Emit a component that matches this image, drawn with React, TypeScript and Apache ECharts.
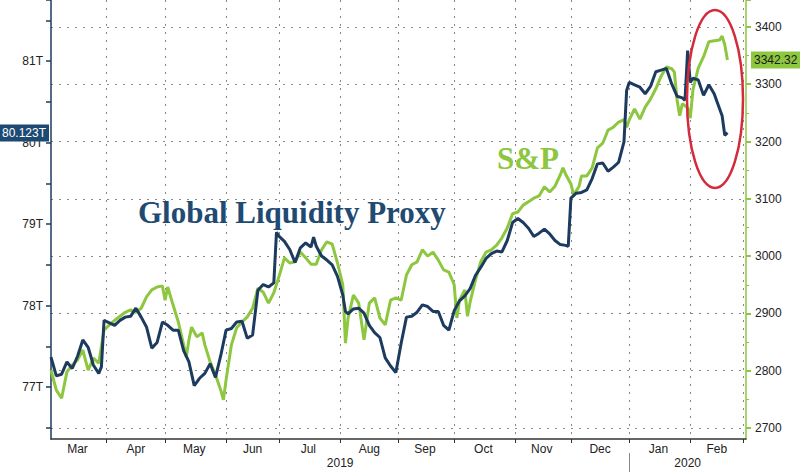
import React, { useEffect, useRef } from "react";
import * as echarts from "echarts";

// ---- data ----
const liquidityDates = [
  "2019-03-01","2019-03-05","2019-03-07","2019-03-11","2019-03-13","2019-03-15","2019-03-19","2019-03-21","2019-03-25","2019-03-27","2019-03-28","2019-03-29",
  "2019-04-02","2019-04-04","2019-04-08","2019-04-10","2019-04-12","2019-04-16","2019-04-18","2019-04-22","2019-04-24","2019-04-26","2019-04-30",
  "2019-05-02","2019-05-06","2019-05-08","2019-05-10","2019-05-14","2019-05-16","2019-05-20","2019-05-22","2019-05-24","2019-05-28","2019-05-30",
  "2019-06-03","2019-06-05","2019-06-07","2019-06-11","2019-06-13","2019-06-17","2019-06-19","2019-06-21","2019-06-25","2019-06-27","2019-06-28",
  "2019-07-01","2019-07-03","2019-07-05","2019-07-09","2019-07-11","2019-07-15","2019-07-17","2019-07-18","2019-07-19","2019-07-23","2019-07-25","2019-07-29","2019-07-31",
  "2019-08-02","2019-08-05","2019-08-06","2019-08-08","2019-08-12","2019-08-14","2019-08-16","2019-08-20","2019-08-22","2019-08-26","2019-08-28","2019-08-30",
  "2019-09-03","2019-09-05","2019-09-09","2019-09-11","2019-09-13","2019-09-17","2019-09-19","2019-09-23","2019-09-25","2019-09-27",
  "2019-10-01","2019-10-03","2019-10-07","2019-10-09","2019-10-11","2019-10-15","2019-10-17","2019-10-21","2019-10-23","2019-10-25","2019-10-29","2019-10-31",
  "2019-11-04","2019-11-06","2019-11-08","2019-11-12","2019-11-14","2019-11-18","2019-11-20","2019-11-22","2019-11-26","2019-11-28","2019-11-29",
  "2019-12-02","2019-12-04","2019-12-06","2019-12-10","2019-12-12","2019-12-16","2019-12-18","2019-12-20","2019-12-24","2019-12-26","2019-12-30","2019-12-31",
  "2020-01-01","2020-01-03","2020-01-07","2020-01-09","2020-01-13","2020-01-15","2020-01-17","2020-01-21","2020-01-23","2020-01-27","2020-01-29","2020-01-30","2020-01-31",
  "2020-02-03","2020-02-04","2020-02-06","2020-02-10","2020-02-12","2020-02-14","2020-02-18","2020-02-19","2020-02-20","2020-02-21",
];
const liquidityValues = [
  77.37, 77.14, 77.16, 77.31, 77.23, 77.38, 77.58, 77.49, 77.27, 77.17, 77.25, 77.82,
  77.79, 77.76, 77.82, 77.86, 77.87, 77.97, 77.86, 77.74, 77.48, 77.55, 77.80,
  77.76, 77.70, 77.70, 77.45, 77.31, 77.02, 77.11, 77.17, 77.29, 77.12, 77.39,
  77.70, 77.72, 77.80, 77.81, 77.60, 77.64, 78.19, 78.26, 78.23, 78.28, 78.90,
  78.85, 78.79, 78.69, 78.53, 78.71, 78.77, 78.72, 78.84, 78.73, 78.61, 78.56, 78.50, 78.36,
  78.13, 77.93, 77.90, 77.96, 77.97, 77.91, 77.76, 77.67, 77.61, 77.36, 77.26, 77.18,
  77.54, 77.86, 77.87, 77.92, 78.01, 77.99, 77.93, 77.93, 77.76, 77.70,
  77.94, 78.06, 78.12, 78.21, 78.37, 78.47, 78.58, 78.64, 78.67, 78.66, 78.80, 79.02,
  79.07, 79.02, 78.95, 78.85, 78.89, 78.94, 78.88, 78.80, 78.75, 78.74, 78.73,
  79.32, 79.38, 79.39, 79.42, 79.56, 79.74, 79.75, 79.65, 79.70, 79.76, 80.01, 80.64,
  80.74, 80.71, 80.68, 80.60, 80.69, 80.87, 80.89, 80.91, 80.72, 80.57, 80.55, 80.52, 81.13,
  80.74, 80.79, 80.77, 80.58, 80.71, 80.60, 80.42, 80.33, 80.09, 80.123,
];

const spxDates = [
  "2019-03-01","2019-03-05","2019-03-07","2019-03-11","2019-03-13","2019-03-15","2019-03-19","2019-03-21","2019-03-25","2019-03-27","2019-03-29",
  "2019-04-02","2019-04-04","2019-04-08","2019-04-10","2019-04-12","2019-04-16","2019-04-18","2019-04-22","2019-04-24","2019-04-26","2019-04-30",
  "2019-05-01","2019-05-02","2019-05-06","2019-05-08","2019-05-10","2019-05-13","2019-05-14","2019-05-15","2019-05-17","2019-05-21","2019-05-22","2019-05-24","2019-05-28","2019-05-30","2019-05-31",
  "2019-06-03","2019-06-05","2019-06-07","2019-06-11","2019-06-13","2019-06-17","2019-06-19","2019-06-21","2019-06-25","2019-06-27",
  "2019-07-01","2019-07-03","2019-07-05","2019-07-09","2019-07-11","2019-07-15","2019-07-17","2019-07-19","2019-07-23","2019-07-25","2019-07-29","2019-07-31",
  "2019-08-02","2019-08-05","2019-08-06","2019-08-08","2019-08-12","2019-08-14","2019-08-16","2019-08-20","2019-08-22","2019-08-26","2019-08-28","2019-08-30",
  "2019-09-03","2019-09-05","2019-09-09","2019-09-11","2019-09-13","2019-09-17","2019-09-19","2019-09-23","2019-09-25","2019-09-27",
  "2019-10-01","2019-10-02","2019-10-03","2019-10-07","2019-10-08","2019-10-09","2019-10-11","2019-10-15","2019-10-17","2019-10-21","2019-10-23","2019-10-25","2019-10-29","2019-10-31",
  "2019-11-04","2019-11-06","2019-11-08","2019-11-12","2019-11-14","2019-11-18","2019-11-20","2019-11-22","2019-11-26","2019-11-27","2019-11-28",
  "2019-12-02","2019-12-03","2019-12-05","2019-12-06","2019-12-10","2019-12-12","2019-12-16","2019-12-18","2019-12-20","2019-12-24","2019-12-26","2019-12-30","2019-12-31",
  "2020-01-01","2020-01-03","2020-01-07","2020-01-09","2020-01-13","2020-01-15","2020-01-17","2020-01-21","2020-01-23","2020-01-24","2020-01-27","2020-01-28","2020-01-29","2020-01-31",
  "2020-02-03","2020-02-04","2020-02-06","2020-02-10","2020-02-12","2020-02-14","2020-02-18","2020-02-19","2020-02-20","2020-02-21",
];
const spxValues = [
  2801, 2766, 2752, 2798, 2810, 2819, 2836, 2801, 2822, 2813, 2871,
  2880, 2888, 2895, 2902, 2906, 2902, 2909, 2929, 2941, 2946, 2948,
  2923, 2946, 2915, 2885, 2845, 2824, 2854, 2876, 2859, 2866, 2845, 2815, 2793, 2766, 2749,
  2784, 2845, 2875, 2885, 2894, 2909, 2944, 2937, 2918, 2936,
  2965, 2997, 2988, 2990, 3007, 2997, 2986, 2986, 3011, 3025, 3021, 2988,
  2950, 2848, 2892, 2932, 2918, 2854, 2918, 2927, 2892, 2880, 2923, 2927,
  2923, 2967, 2985, 2990, 3011, 3000, 3007, 2993, 2976, 2972,
  2950, 2892, 2923, 2941, 2895, 2920, 2958, 2990, 3007, 3011, 3019, 3032, 3049, 3074,
  3077, 3089, 3095, 3101, 3105, 3121, 3112, 3122, 3142, 3154, 3143,
  3126, 3107, 3121, 3140, 3140, 3154, 3189, 3197, 3220, 3225, 3234, 3238, 3225,
  3238, 3257, 3239, 3260, 3274, 3292, 3314, 3330, 3327, 3321, 3273, 3245, 3266, 3259,
  3241, 3290, 3328, 3348, 3374, 3376, 3377, 3384, 3369, 3342.32,
];

const monthNames = ["Jan", "Feb", "Mar", "Apr", "May", "Jun", "Jul", "Aug", "Sep", "Oct", "Nov", "Dec"];
const yearLabelDates = ["2019-08-01", "2020-01-31"];
const yearDividerDate = "2020-01-01";
const axisStart = "2019-03-01";
const axisEnd = "2020-03-03";

const BLUE = "#1c3b5e";
const GREEN = "#8dc63f";

function weekdayCategories(start: string, end: string): string[] {
  const out: string[] = [];
  const d = new Date(start + "T00:00:00Z");
  const e = new Date(end + "T00:00:00Z");
  while (d.getTime() <= e.getTime()) {
    const wd = d.getUTCDay();
    if (wd !== 0 && wd !== 6) out.push(d.toISOString().slice(0, 10));
    d.setUTCDate(d.getUTCDate() + 1);
  }
  return out;
}

export default function App() {
  const ref = useRef<HTMLDivElement>(null);

  useEffect(() => {
    if (!ref.current) return;
    const chart = echarts.init(ref.current, null, { renderer: "svg" });

    const cats = weekdayCategories(axisStart, axisEnd);
    const monthStarts: number[] = [];
    cats.forEach((c, i) => {
      if (i === 0 || c.slice(0, 7) !== cats[i - 1].slice(0, 7)) monthStarts.push(i);
    });
    const tickSet = new Set(monthStarts.filter((i) => i > 0));
    const labelSet = new Set<number>();
    for (let k = 0; k < monthStarts.length - 1; k++) {
      labelSet.add(Math.floor((monthStarts[k] + monthStarts[k + 1]) / 2));
    }
    const yearLabelSet = new Set(yearLabelDates.map((d) => cats.indexOf(d)));
    const dividerIdx = cats.indexOf(yearDividerDate);

    const lastLiq = liquidityValues[liquidityValues.length - 1];
    const lastSpx = spxValues[spxValues.length - 1];

    const font = "Liberation Sans";
    const hiddenLine = { color: "rgba(0,0,0,0)", width: 0 };

    chart.setOption({
      animation: false,
      textStyle: { fontFamily: font },
      grid: [
        { left: 51, right: 54, top: 0, bottom: 46 },
        { left: 51, right: 54, top: 0, bottom: 35 },
      ],
      xAxis: [
        { type: "category", gridIndex: 0, data: cats, boundaryGap: false, show: false },
        {
          type: "category",
          gridIndex: 1,
          data: cats,
          boundaryGap: false,
          axisLine: { show: true, onZero: false, lineStyle: { color: "#333", width: 1.5 } },
          axisTick: { show: true, interval: (i: number) => tickSet.has(i), length: 4, lineStyle: { color: "#333" } },
          axisLabel: {
            interval: (i: number) => labelSet.has(i),
            formatter: (v: string) => monthNames[parseInt(v.slice(5, 7), 10) - 1],
            margin: 4,
            color: "#222",
            fontSize: 12,
            fontFamily: font,
          },
          splitLine: {
            show: true,
            interval: (i: number) => tickSet.has(i),
            lineStyle: { color: "#888", type: [2, 6], width: 1 },
          },
        },
        {
          type: "category",
          gridIndex: 1,
          data: cats,
          boundaryGap: false,
          position: "bottom",
          offset: 14,
          axisLine: { show: false, onZero: false },
          axisTick: { show: true, interval: (i: number) => i === dividerIdx, length: 19, lineStyle: { color: "#888" } },
          axisLabel: {
            interval: (i: number) => yearLabelSet.has(i),
            formatter: (v: string) => v.slice(0, 4),
            margin: 4,
            color: "#222",
            fontSize: 12,
            fontFamily: font,
          },
          splitLine: { show: false },
        },
      ],
      yAxis: [
        {
          type: "value",
          gridIndex: 0,
          position: "left",
          min: 76.5,
          max: 81.75,
          interval: 0.5,
          axisLine: { show: false },
          axisTick: { show: true, length: 5, lineStyle: { color: BLUE, width: 1.5 } },
          axisLabel: {
            formatter: (v: number) => (Math.abs(v - Math.round(v)) < 1e-6 ? Math.round(v) + "T" : ""),
            margin: 8,
            color: "#222",
            fontSize: 12,
            fontFamily: font,
          },
          splitLine: { show: false },
        },
        {
          type: "value",
          gridIndex: 0,
          position: "right",
          min: 2700,
          max: 3447,
          interval: 100,
          axisLine: { show: false },
          axisTick: { show: true, length: 5, lineStyle: { color: GREEN, width: 2 } },
          minorTick: { show: true, splitNumber: 2, length: 3, lineStyle: { color: GREEN } },
          axisLabel: {
            formatter: (v: number) => (v % 100 === 0 ? String(v) : ""),
            margin: 9,
            color: "#222",
            fontSize: 12,
            fontFamily: font,
          },
          splitLine: { show: true, showMaxLine: false, lineStyle: { color: "#888", type: [2, 6], width: 1 } },
        },
        {
          type: "value",
          gridIndex: 1,
          position: "left",
          min: 0,
          max: 1,
          axisLine: { show: true, lineStyle: { color: BLUE, width: 1.5 } },
          axisTick: { show: false },
          axisLabel: { show: false },
          splitLine: { show: false },
        },
        {
          type: "value",
          gridIndex: 1,
          position: "right",
          min: 0,
          max: 1,
          axisLine: { show: true, lineStyle: { color: GREEN, width: 1.5 } },
          axisTick: { show: false },
          axisLabel: { show: false },
          splitLine: { show: false },
        },
      ],
      series: [
        {
          name: "S&P",
          type: "line",
          xAxisIndex: 0,
          yAxisIndex: 1,
          data: spxDates.map((d, i) => [d, spxValues[i]]),
          showSymbol: false,
          lineStyle: { color: GREEN, width: 3 },
          itemStyle: { color: GREEN },
          z: 2,
          markLine: {
            silent: true,
            symbol: ["none", "none"],
            lineStyle: hiddenLine,
            emphasis: { disabled: true },
            label: {
              show: true,
              position: "end",
              distance: 5,
              formatter: () => String(lastSpx),
              backgroundColor: GREEN,
              color: "#1a1a1a",
              padding: [3, 3, 2, 3],
              fontSize: 12,
              fontFamily: font,
              opacity: 1,
            },
            data: [{ yAxis: lastSpx }],
          },
        },
        {
          name: "Global Liquidity Proxy",
          type: "line",
          xAxisIndex: 0,
          yAxisIndex: 0,
          data: liquidityDates.map((d, i) => [d, liquidityValues[i]]),
          showSymbol: false,
          lineStyle: { color: BLUE, width: 3 },
          itemStyle: { color: BLUE },
          z: 3,
          markLine: {
            silent: true,
            symbol: ["none", "none"],
            lineStyle: hiddenLine,
            emphasis: { disabled: true },
            label: {
              show: true,
              position: "start",
              distance: 2,
              formatter: () => lastLiq + "T",
              backgroundColor: "#1d4a73",
              color: "#ffffff",
              padding: [3, 3, 2, 3],
              fontSize: 12,
              fontFamily: font,
              opacity: 1,
            },
            data: [{ yAxis: lastLiq }],
          },
        },
      ],
      graphic: [
        {
          type: "text",
          x: 138,
          y: 212,
          z: 10,
          style: {
            text: "Global Liquidity Proxy",
            fill: "#1f4a72",
            font: 'bold 31px "Liberation Serif"',
            verticalAlign: "middle",
          },
        },
        {
          type: "text",
          x: 497,
          y: 158,
          z: 10,
          style: {
            text: "S&P",
            fill: GREEN,
            font: 'bold 31px "Liberation Serif"',
            verticalAlign: "middle",
          },
        },
        {
          type: "ellipse",
          z: 20,
          shape: { cx: 715, cy: 99, rx: 28, ry: 89 },
          style: { fill: "none", stroke: "#d42a3c", lineWidth: 2.5 },
        },
      ],
    });

    return () => chart.dispose();
  }, []);

  return (
    <div
      ref={ref}
      style={{ position: "fixed", left: 0, top: 0, width: 800, height: 474, background: "#fff" }}
    />
  );
}
